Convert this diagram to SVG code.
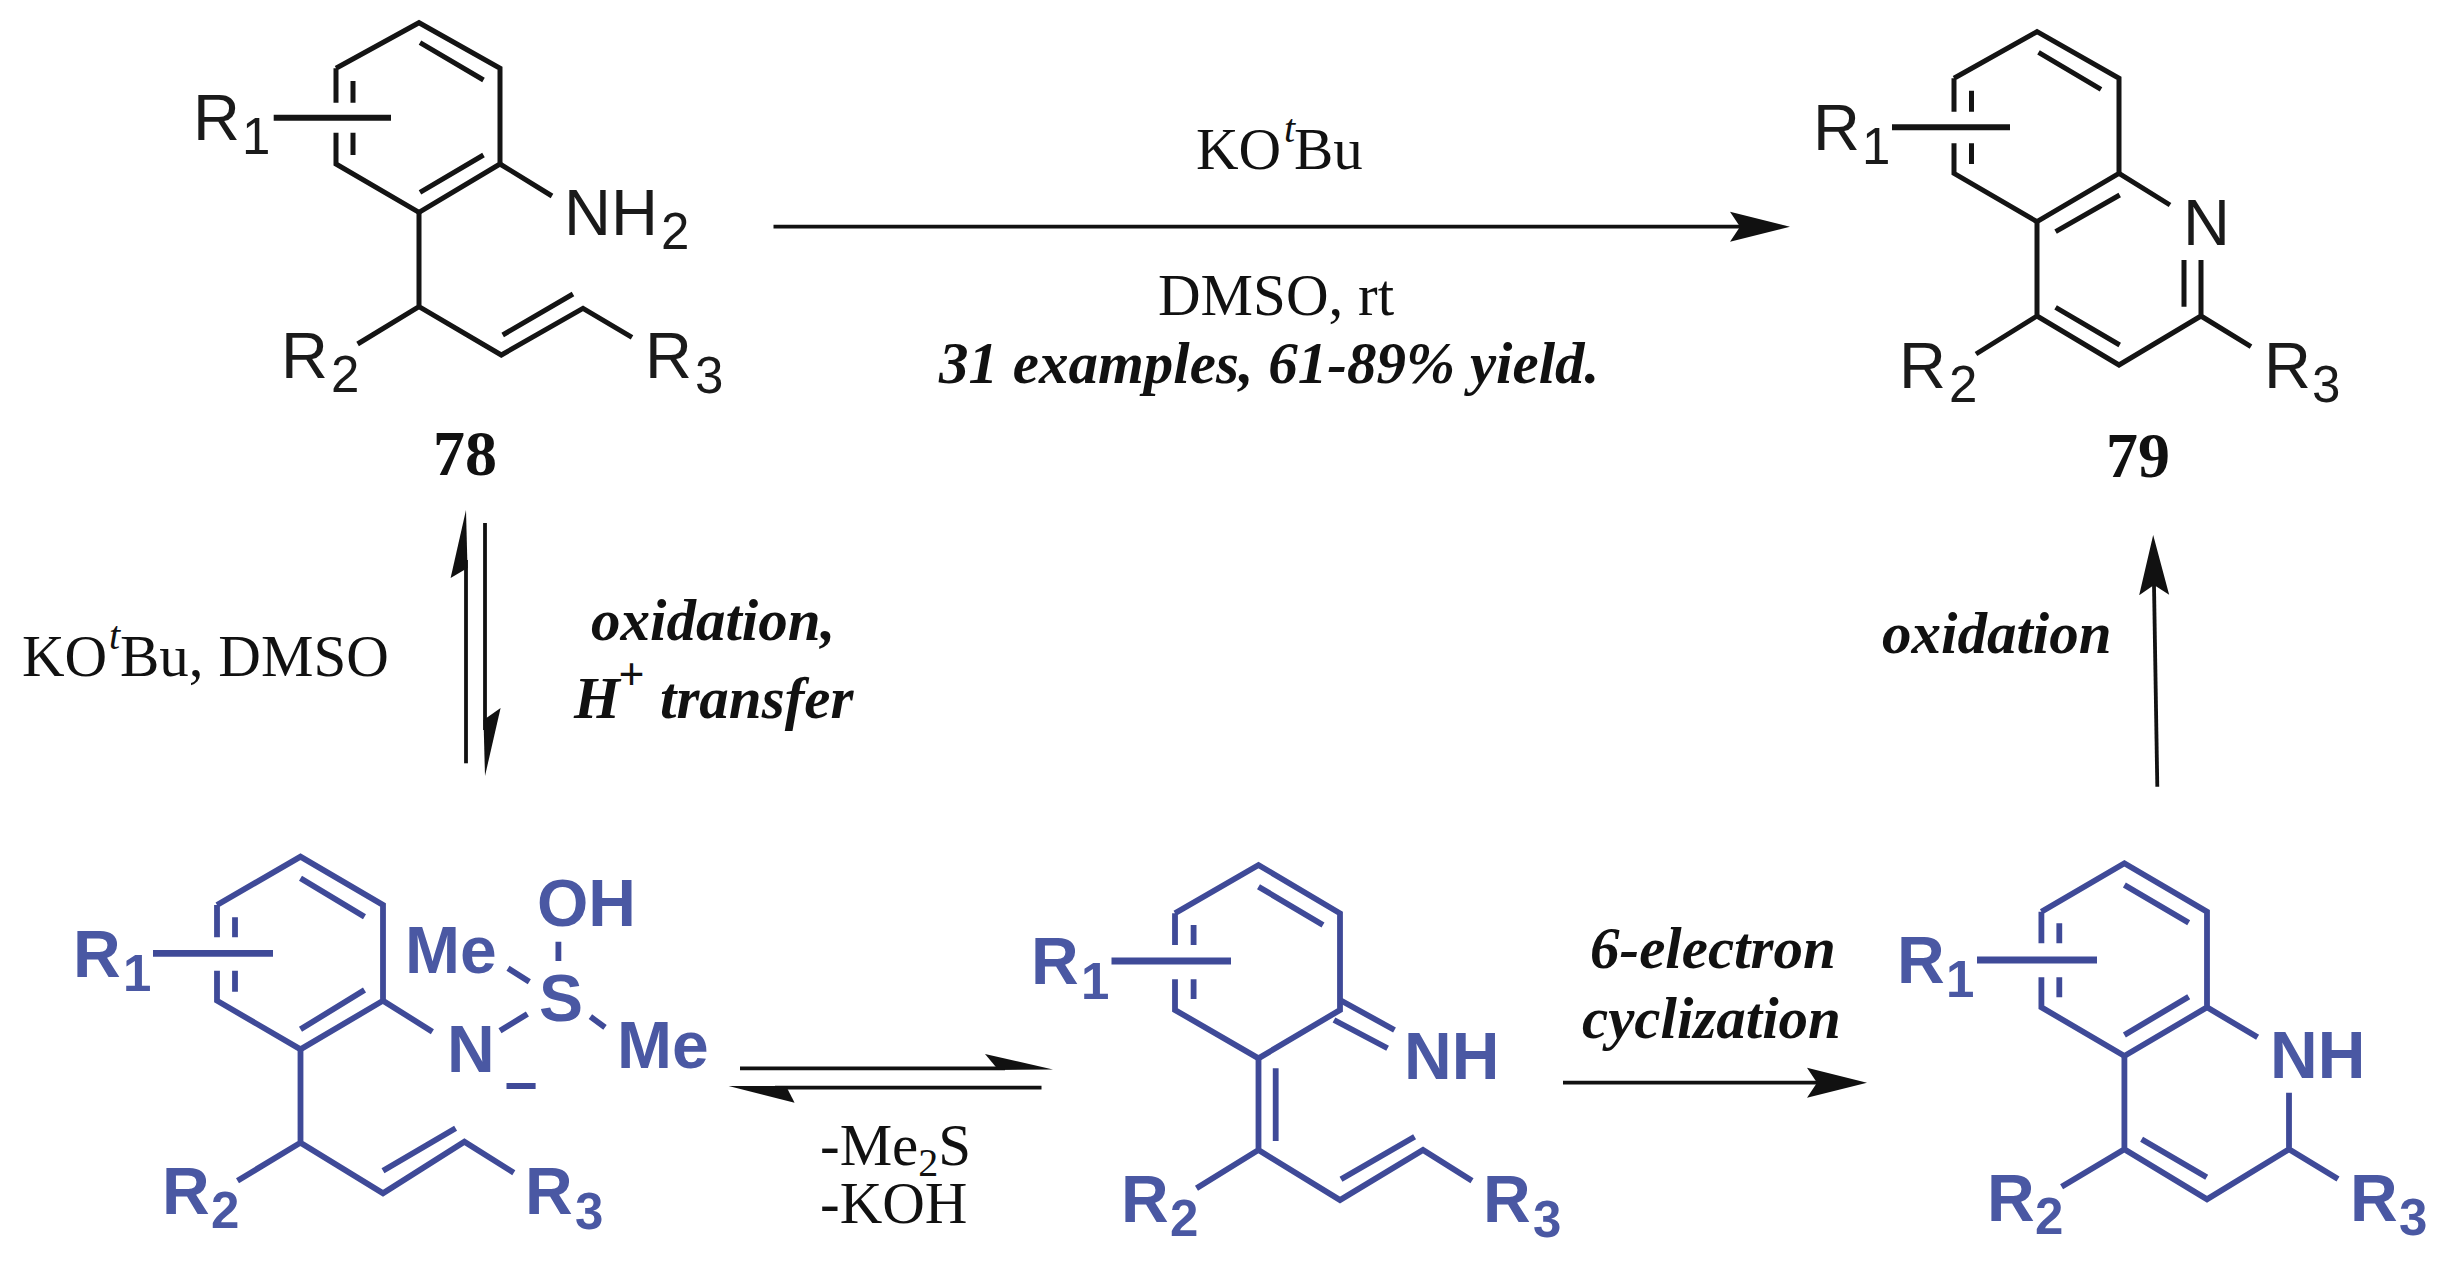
<svg xmlns="http://www.w3.org/2000/svg" width="2450" height="1271" viewBox="0 0 2450 1271">
<style>
.b{fill:none;stroke:#141414;stroke-width:5;stroke-linejoin:miter;stroke-linecap:butt}
.bt{fill:none;stroke:#141414;stroke-width:6}
.c{fill:none;stroke:#3f4a98;stroke-width:5.8;stroke-linejoin:miter;stroke-linecap:butt}
.ct{fill:none;stroke:#3f4a98;stroke-width:6.8}
.a{fill:none;stroke:#111;stroke-width:3.8}
.h{fill:#111}
.at{font-family:"Liberation Sans",Arial,sans-serif;font-size:65px;fill:#1a1a1a}
.bl{font-family:"Liberation Sans",Arial,sans-serif;font-size:66px;font-weight:bold;fill:#4a58a3}
.s{font-size:51px}
.r{font-family:"Liberation Serif","Times New Roman",serif;font-size:59px;fill:#111}
.i{font-family:"Liberation Serif","Times New Roman",serif;font-size:59px;font-weight:bold;font-style:italic;fill:#111}
.n{font-family:"Liberation Serif","Times New Roman",serif;font-size:64px;font-weight:bold;fill:#111;text-anchor:middle}
.sup{font-size:40px;font-style:italic}
.sb{font-size:40px}
.pl{font-size:46px}
</style>
<defs>
<marker id="head" markerUnits="userSpaceOnUse" markerWidth="64" markerHeight="34" refX="10" refY="16" orient="auto">
<path d="M0,1 L60,16 L0,31 L10,16 Z" fill="#111"/>
</marker>
</defs>

<g id="compound-78">
<path class="b" d="M336,68.3 L419,22.7 L500,68.3 V164 L419,212.3 L336,164 V132.7 M336,102.7 V68.3"/>
<path class="b" d="M420,42.7 L483.5,80 M420,192.3 L483.5,155 M353,81 V102.7 M353,132.7 V155"/>
<path class="bt" d="M273.7,117.7 H391"/>
<path class="b" d="M500,164 L552,196 M419,212.3 V306.7 L357.6,344 M419,306.7 L501.3,355 L583,308.3 L632,337.3 M502.7,335 L573,294"/>
<text class="at" x="193" y="140">R<tspan class="s" x="242" y="154.3">1</tspan></text>
<text class="at" x="564" y="235">NH<tspan class="s" x="661" y="249.3">2</tspan></text>
<text class="at" x="281" y="378.3">R<tspan class="s" x="331" y="391.7">2</tspan></text>
<text class="at" x="645" y="378.3">R<tspan class="s" x="695" y="392.7">3</tspan></text>
<text class="n" x="465" y="475">78</text>
</g>

<g id="compound-79">
<path class="b" d="M1954,78.3 L2037,31.7 L2119,78.3 V173.3 L2037,221.7 L1954,173.3 V143.3 M1954,111.7 V78.3"/>
<path class="b" d="M2038.5,52.3 L2101,89.3 M2055.6,231.7 L2119.7,195 M1971.5,90.7 V111.7 M1971.5,143.3 V164"/>
<path class="bt" d="M1892,127.3 H2010"/>
<path class="b" d="M2119,173.3 L2170,205 M2201,260 V316 L2119,365 L2037,316 V221.7 M2184,260 V306.7 M2055.6,307.3 L2119.7,345 M2037,316 L1976,354 M2201,316 L2251,346.7"/>
<text class="at" x="1813" y="150">R<tspan class="s" x="1862" y="164">1</tspan></text>
<text class="at" x="2183" y="245">N</text>
<text class="at" x="1899" y="387.7">R<tspan class="s" x="1949" y="401.7">2</tspan></text>
<text class="at" x="2264" y="387.7">R<tspan class="s" x="2312" y="402">3</tspan></text>
<text class="n" x="2138" y="476.7">79</text>
</g>

<g id="intermediate-sulfonium">
<path class="c" d="M217,905 L300.5,856.7 L383,905 V1000.7 L300.5,1049.3 L217,1000.7 V970.7 M217,937.3 V905"/>
<path class="c" d="M300.5,878.3 L364.5,916.7 M300.5,1029.3 L364.5,990 M235,917.3 V937.3 M235,970.7 V991.7"/>
<path class="ct" d="M153,953.3 H273"/>
<path class="c" d="M383,1000.7 L432.4,1031.7 M500,1030.7 L527.4,1014 M558.4,941.7 V961 M508,968.3 L529.3,981.7 M590.4,1016.7 L605,1027.3 M506.5,1086 H535.6"/>
<path class="c" d="M300.5,1049.3 V1142.7 L237.5,1180.7 M300.5,1142.7 L383,1193.3 L464.4,1141.7 L513.8,1172.7 M383,1170.7 L455.6,1128.3"/>
<text class="bl" x="73" y="976.7">R<tspan class="s" x="123" y="991">1</tspan></text>
<text class="bl" x="447" y="1071.7">N</text>
<text class="bl" x="561" y="1021" text-anchor="middle">S</text>
<text class="bl" x="537" y="926">OH</text>
<text class="bl" x="405" y="973.3">Me</text>
<text class="bl" x="617" y="1068.3">Me</text>
<text class="bl" x="162" y="1214.3">R<tspan class="s" x="211" y="1228.3">2</tspan></text>
<text class="bl" x="525" y="1214.3">R<tspan class="s" x="575" y="1229">3</tspan></text>
</g>

<g id="intermediate-imine">
<path class="c" d="M1175,913.3 L1258.5,865 L1340,913.3 V1010 L1258.5,1058.3 L1175,1010 V979.3 M1175,945 V913.3"/>
<path class="c" d="M1258.5,886.7 L1323,925 M1193.6,925 V945 M1193.6,979.3 V999"/>
<path class="ct" d="M1111.5,961 H1231"/>
<path class="c" d="M1340,1000 L1394.5,1030 M1334,1020 L1387.6,1048.3 M1258.5,1058.3 V1150 L1196.5,1188.3 M1275.7,1068.3 V1141 M1258.5,1150 L1340,1200 L1423,1150 L1472,1180.7 M1341,1179.3 L1414.6,1136.7"/>
<text class="bl" x="1031" y="984.3">R<tspan class="s" x="1081" y="999">1</tspan></text>
<text class="bl" x="1404" y="1079.3">NH</text>
<text class="bl" x="1121" y="1221.7">R<tspan class="s" x="1170" y="1236">2</tspan></text>
<text class="bl" x="1483" y="1221.7">R<tspan class="s" x="1533" y="1237">3</tspan></text>
</g>

<g id="intermediate-dihydroquinoline">
<path class="c" d="M2041.4,911.7 L2124.4,863.3 L2207,911.7 V1007.3 L2124.4,1056 L2041.4,1007.3 V977.3 M2041.4,943.3 V911.7"/>
<path class="c" d="M2124.4,885 L2188.7,922.7 M2124.4,1035 L2188.7,996.7 M2059.3,923.3 V943.3 M2059.3,977.3 V997.3"/>
<path class="ct" d="M1977,960 H2097"/>
<path class="c" d="M2207,1007.3 L2257.6,1037.3 M2289,1092.7 V1149.3 L2207,1199.3 L2124.4,1149.3 V1056 M2141.6,1139.3 L2206.7,1177.3 M2124.4,1149.3 L2061.6,1186.7 M2289,1149.3 L2338,1179"/>
<text class="bl" x="1897" y="983.3">R<tspan class="s" x="1946" y="997.3">1</tspan></text>
<text class="bl" x="2270" y="1077.7">NH</text>
<text class="bl" x="1987" y="1220.7">R<tspan class="s" x="2035" y="1234.3">2</tspan></text>
<text class="bl" x="2350" y="1220.7">R<tspan class="s" x="2399" y="1235">3</tspan></text>
</g>

<g id="connectors">
<line class="a" x1="773.5" y1="226.7" x2="1740" y2="226.7" marker-end="url(#head)"/>
<line class="a" x1="1563" y1="1082.7" x2="1817" y2="1082.7" marker-end="url(#head)"/>
<line class="a" x1="2157.3" y1="786.7" x2="2154" y2="585" marker-end="url(#head)"/>
<line class="a" x1="466" y1="763.3" x2="466" y2="560"/>
<polygon class="h" points="466,510 467.5,568 450.6,578"/>
<line class="a" x1="485" y1="523" x2="485" y2="730"/>
<polygon class="h" points="485,776 483.5,720 500.6,708"/>
<line class="a" x1="740" y1="1068.3" x2="1005" y2="1068.3"/>
<polygon class="h" points="1053,1069.5 985,1054 998.4,1070"/>
<line class="a" x1="1041.5" y1="1087.7" x2="775" y2="1087.7"/>
<polygon class="h" points="728.6,1086 794.6,1102.7 786,1086"/>
</g>

<g id="labels">
<text class="r" x="1196" y="169">KO<tspan class="sup" x="1284" y="142">t</tspan><tspan x="1294" y="169">Bu</tspan></text>
<text class="r" x="1158" y="315">DMSO, rt</text>
<text class="i" x="939" y="383">31 examples, 61-89% yield.</text>
<text class="r" x="22" y="676">KO<tspan class="sup" x="109" y="649">t</tspan><tspan x="120" y="676">Bu, DMSO</tspan></text>
<text class="i" x="591" y="640">oxidation,</text>
<text class="i" x="574" y="718.3">H<tspan class="pl" x="618" y="690">+</tspan><tspan x="660" y="718.3">transfer</tspan></text>
<text class="r" x="820" y="1165">-Me<tspan class="sb" y="1176">2</tspan><tspan y="1165">S</tspan></text>
<text class="r" x="820" y="1223.3">-KOH</text>
<text class="i" x="1590" y="968">6-electron</text>
<text class="i" x="1582" y="1038">cyclization</text>
<text class="i" x="1882" y="653">oxidation</text>
</g>
</svg>
